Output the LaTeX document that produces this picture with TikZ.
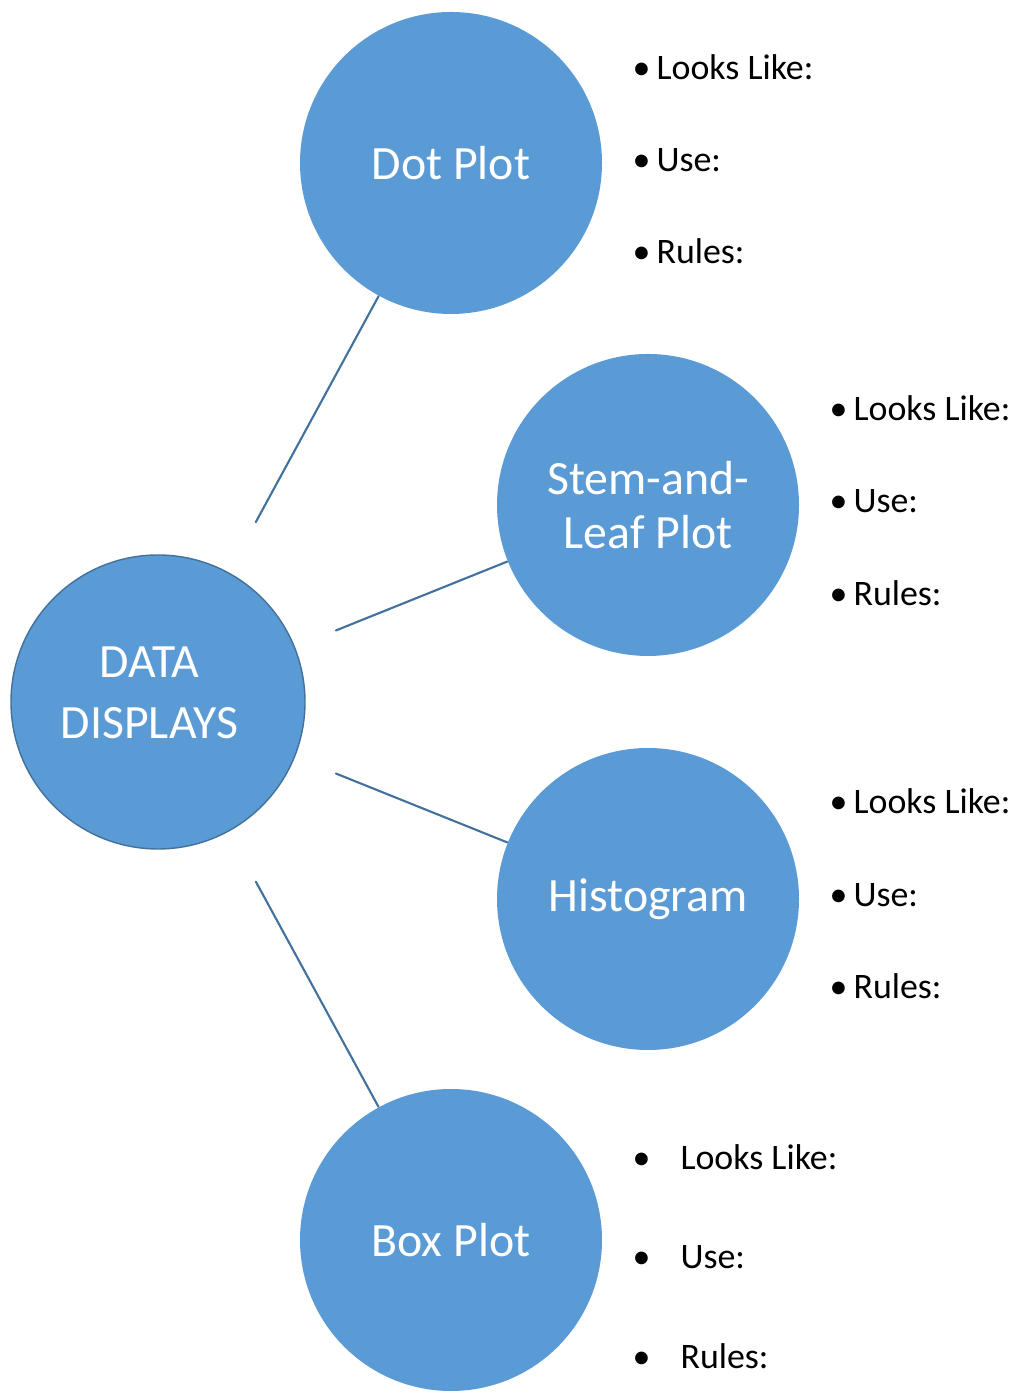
\documentclass[tikz,border=0pt]{standalone}
\usepackage{fontspec}
\setmainfont{Carlito}
\definecolor{bubble}{HTML}{5B9BD5}
\definecolor{link}{HTML}{41719C}
\tikzset{
  bubble/.style={circle, fill=bubble, text=white, minimum size=3.02cm, inner sep=0pt,
    align=center, font=\fontsize{13.6}{15.4}\selectfont},
  item/.style={anchor=base west, inner sep=0pt, font=\fontsize{10.2}{12}\selectfont},
  link/.style={draw=link, line width=0.6pt}
}
\newcommand{\bul}[1]{•\hspace{#1}}
\begin{document}
\begin{tikzpicture}[line join=round, line cap=round]
  \useasboundingbox (0,0) rectangle (10.19,13.92);
  % centre and the four kinds of display
  \node[bubble, draw=link, line width=0.4pt, minimum size=2.94cm] (data) at (1.58,6.90) {};
  \node[align=center, text=white, inner sep=0pt, font=\fontsize{13.6}{17.4}\selectfont]
    (data-text) at ([shift={(-0.085,0.09)}]data.center) {DATA\\DISPLAYS};
  \node[bubble] (dot)  at (4.51,12.29) {Dot Plot};
  \node[bubble] (stem) at (6.48,8.87)  {Stem-and-\\Leaf Plot};
  \node[bubble] (hist) at (6.48,4.93)  {Histogram};
  \node[bubble] (box)  at (4.51,1.52)  {Box Plot};
  \draw[link, shorten <=0.57cm] (data) -- (dot);
  \draw[link, shorten <=0.44cm] (data) -- (stem);
  \draw[link, shorten <=0.44cm] (data) -- (hist);
  \draw[link, shorten <=0.57cm] (data) -- (box);
  % notes beside each display
  \node[item] (dot-look)  at (6.32,13.12) {\bul{0.06cm}Looks Like:};
  \node[item] (dot-use)   at (6.32,12.20) {\bul{0.06cm}Use:};
  \node[item] (dot-rule)  at (6.32,11.28) {\bul{0.06cm}Rules:};
  \node[item] (stem-look) at (8.29,9.71)  {\bul{0.06cm}Looks Like:};
  \node[item] (stem-use)  at (8.29,8.79)  {\bul{0.06cm}Use:};
  \node[item] (stem-rule) at (8.29,7.86)  {\bul{0.06cm}Rules:};
  \node[item] (hist-look) at (8.29,5.78)  {\bul{0.06cm}Looks Like:};
  \node[item] (hist-use)  at (8.29,4.85)  {\bul{0.06cm}Use:};
  \node[item] (hist-rule) at (8.29,3.93)  {\bul{0.06cm}Rules:};
  \node[item] (box-look)  at (6.32,2.22)  {\bul{0.30cm}Looks Like:};
  \node[item] (box-use)   at (6.32,1.23)  {\bul{0.30cm}Use:};
  \node[item] (box-rule)  at (6.32,0.24)  {\bul{0.30cm}Rules:};
\end{tikzpicture}
\end{document}
